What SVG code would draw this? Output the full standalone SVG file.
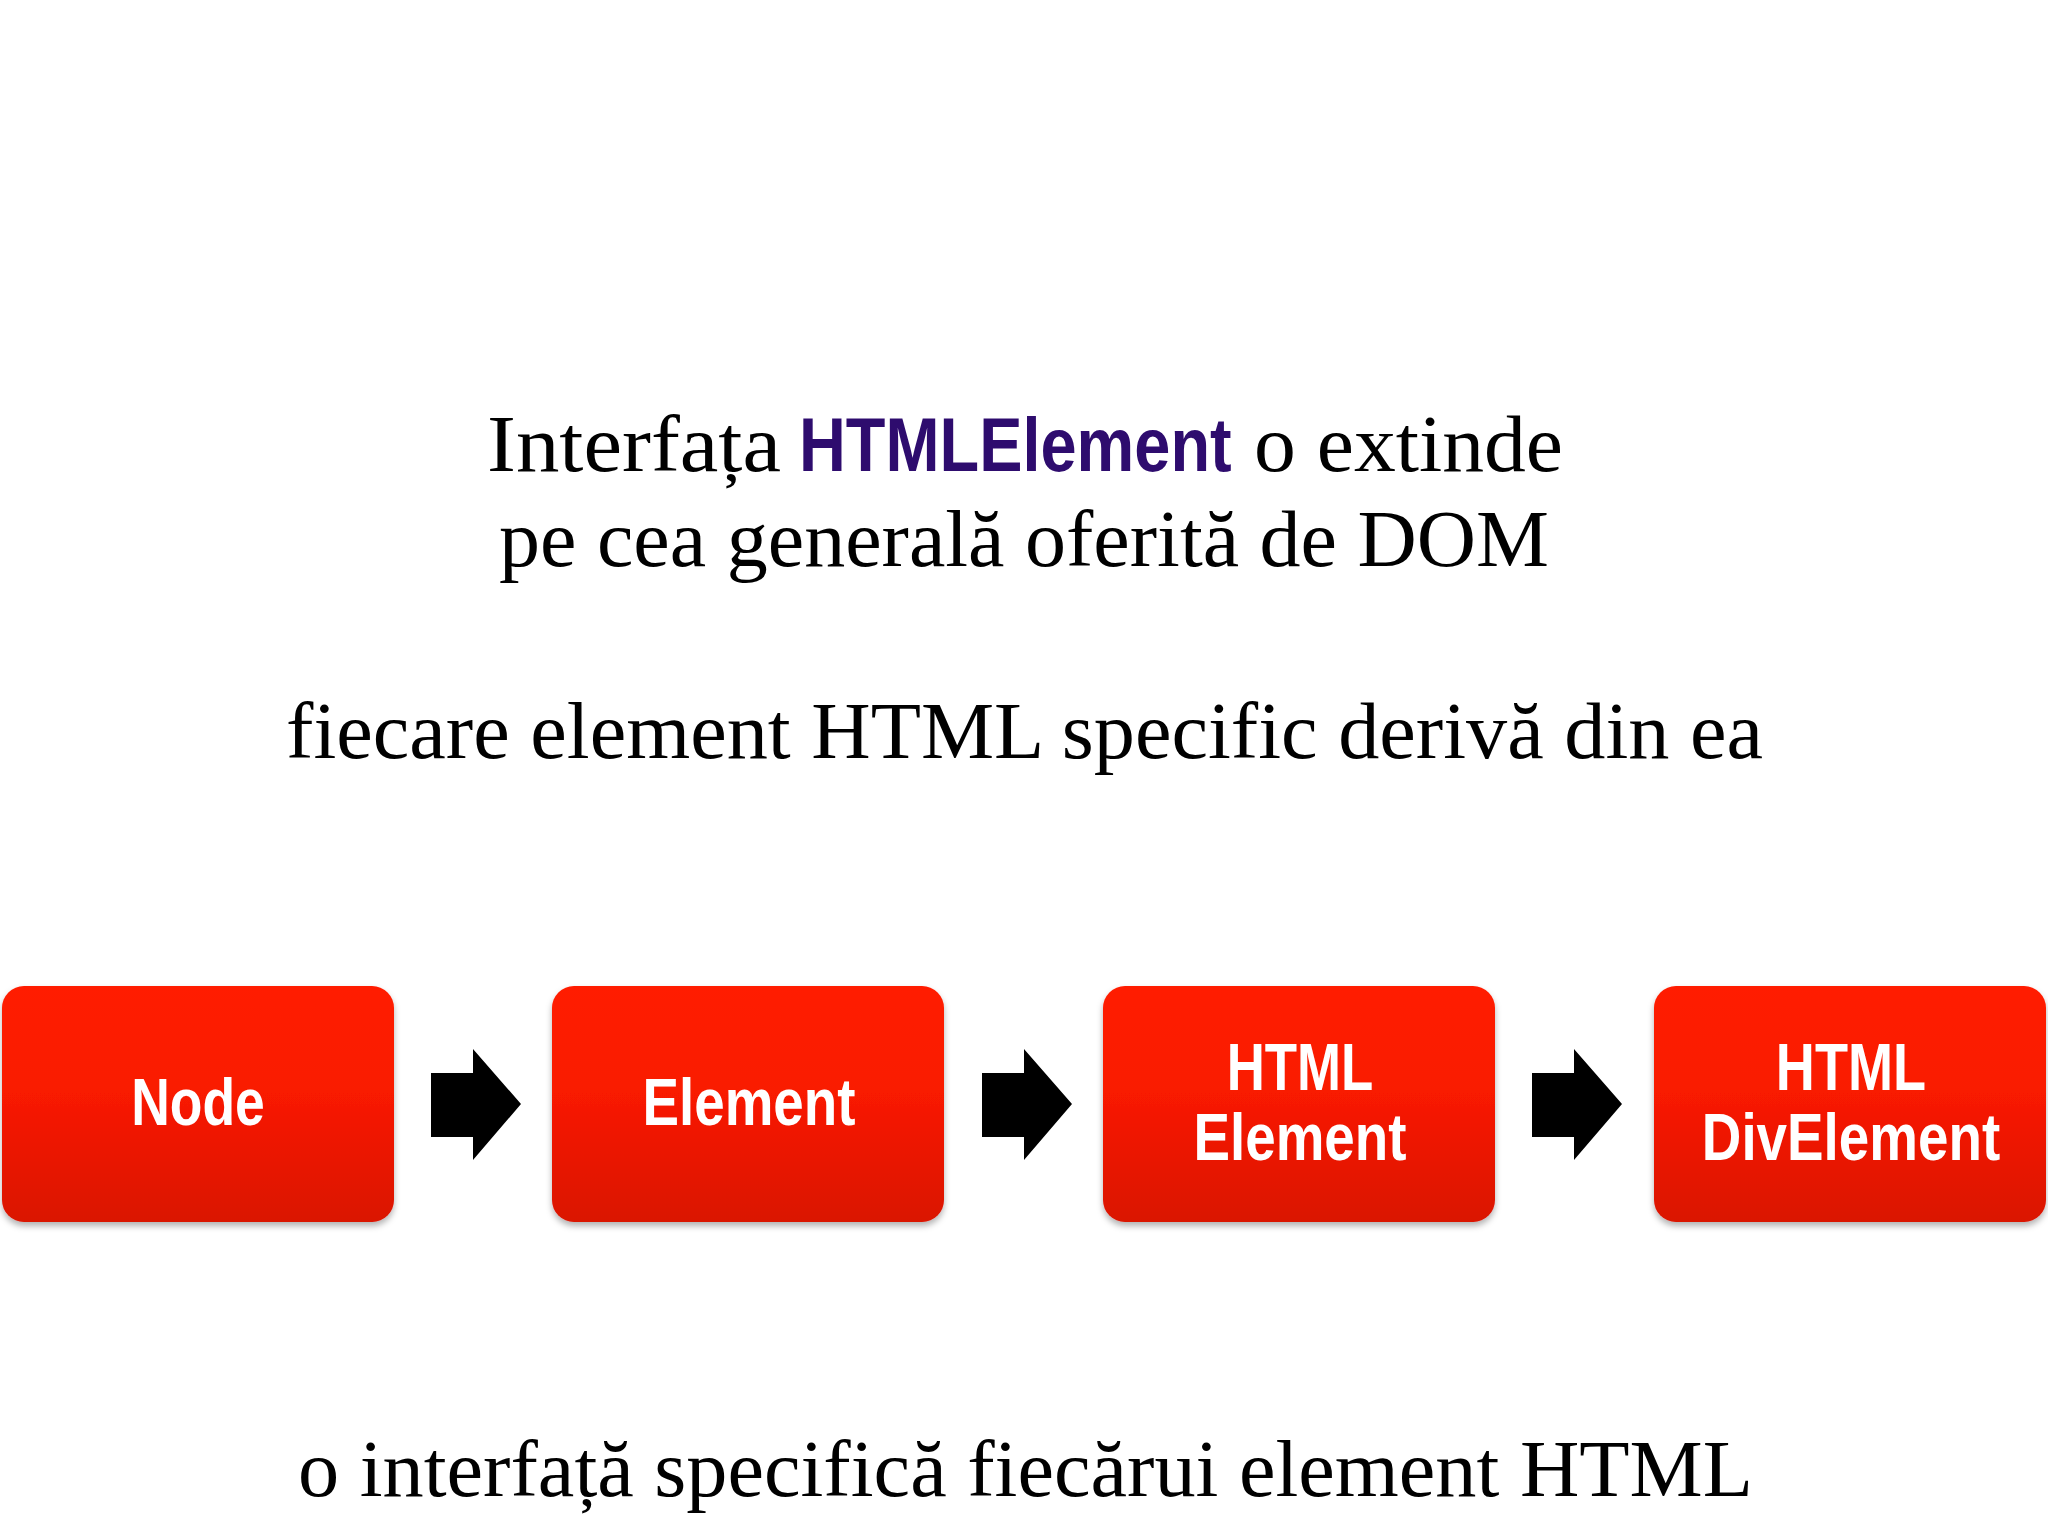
<svg xmlns="http://www.w3.org/2000/svg" width="2048" height="1536" viewBox="0 0 2048 1536">
<style>
.serif{font-family:"Liberation Serif","DejaVu Serif",serif;font-size:80px;fill:#000}
.hl{font-family:"Liberation Sans",Arial,sans-serif;font-weight:bold;font-size:76px;fill:#2e0c6e}
.lbl{font-family:"Liberation Sans",Arial,sans-serif;font-weight:bold;font-size:66px;fill:#fff;text-anchor:middle}
.box{fill:url(#red);filter:url(#sh)}
.arr{fill:#000}
</style>
<defs>
<linearGradient id="red" x1="0" y1="0" x2="0" y2="1">
<stop offset="0" stop-color="#ff1c02"/>
<stop offset="0.45" stop-color="#f91a01"/>
<stop offset="1" stop-color="#da1200"/>
</linearGradient>
<filter id="sh" x="-5%" y="-5%" width="110%" height="120%">
<feDropShadow dx="0" dy="4" stdDeviation="3" flood-color="#000" flood-opacity="0.3"/>
</filter>
</defs>
<rect width="2048" height="1536" fill="#fff"/>
<g id="title">
<text class="serif" x="487" y="471" textLength="294" lengthAdjust="spacingAndGlyphs">Interfața</text>
<text class="hl" transform="translate(799,471) scale(0.854,1)" x="0" y="0">HTMLElement</text>
<text class="serif" x="1254" y="471" textLength="309" lengthAdjust="spacingAndGlyphs">o extinde</text>
<text class="serif" x="499" y="566" textLength="1050" lengthAdjust="spacingAndGlyphs">pe cea generală oferită de DOM</text>
</g>
<g id="subtitle">
<text class="serif" x="286" y="758" textLength="1477" lengthAdjust="spacingAndGlyphs">fiecare element HTML specific derivă din ea</text>
</g>
<g id="footer">
<text class="serif" x="298" y="1496" textLength="1455" lengthAdjust="spacingAndGlyphs">o interfață specifică fiecărui element HTML</text>
</g>
<g id="node-node">
<rect class="box" x="2" y="986" width="392" height="236" rx="22"/>
<text class="lbl" transform="translate(198,1125) scale(0.81,1)">Node</text>
</g>
<g id="node-element">
<rect class="box" x="552" y="986" width="392" height="236" rx="22"/>
<text class="lbl" transform="translate(749,1125) scale(0.83,1)">Element</text>
</g>
<g id="node-htmlelement">
<rect class="box" x="1103" y="986" width="392" height="236" rx="22"/>
<text class="lbl" transform="translate(1300,1090) scale(0.8,1)">HTML</text>
<text class="lbl" transform="translate(1300,1160) scale(0.83,1)">Element</text>
</g>
<g id="node-htmldivelement">
<rect class="box" x="1654" y="986" width="392" height="236" rx="22"/>
<text class="lbl" transform="translate(1851,1090) scale(0.82,1)">HTML</text>
<text class="lbl" transform="translate(1851,1160) scale(0.83,1)">DivElement</text>
</g>
<g id="connectors">
<polygon class="arr" points="431,1073 473,1073 473,1049 521,1104 473,1160 473,1137 431,1137"/>
<polygon class="arr" points="982,1073 1024,1073 1024,1049 1072,1104 1024,1160 1024,1137 982,1137"/>
<polygon class="arr" points="1532,1073 1574,1073 1574,1049 1622,1104 1574,1160 1574,1137 1532,1137"/>
</g>
</svg>
